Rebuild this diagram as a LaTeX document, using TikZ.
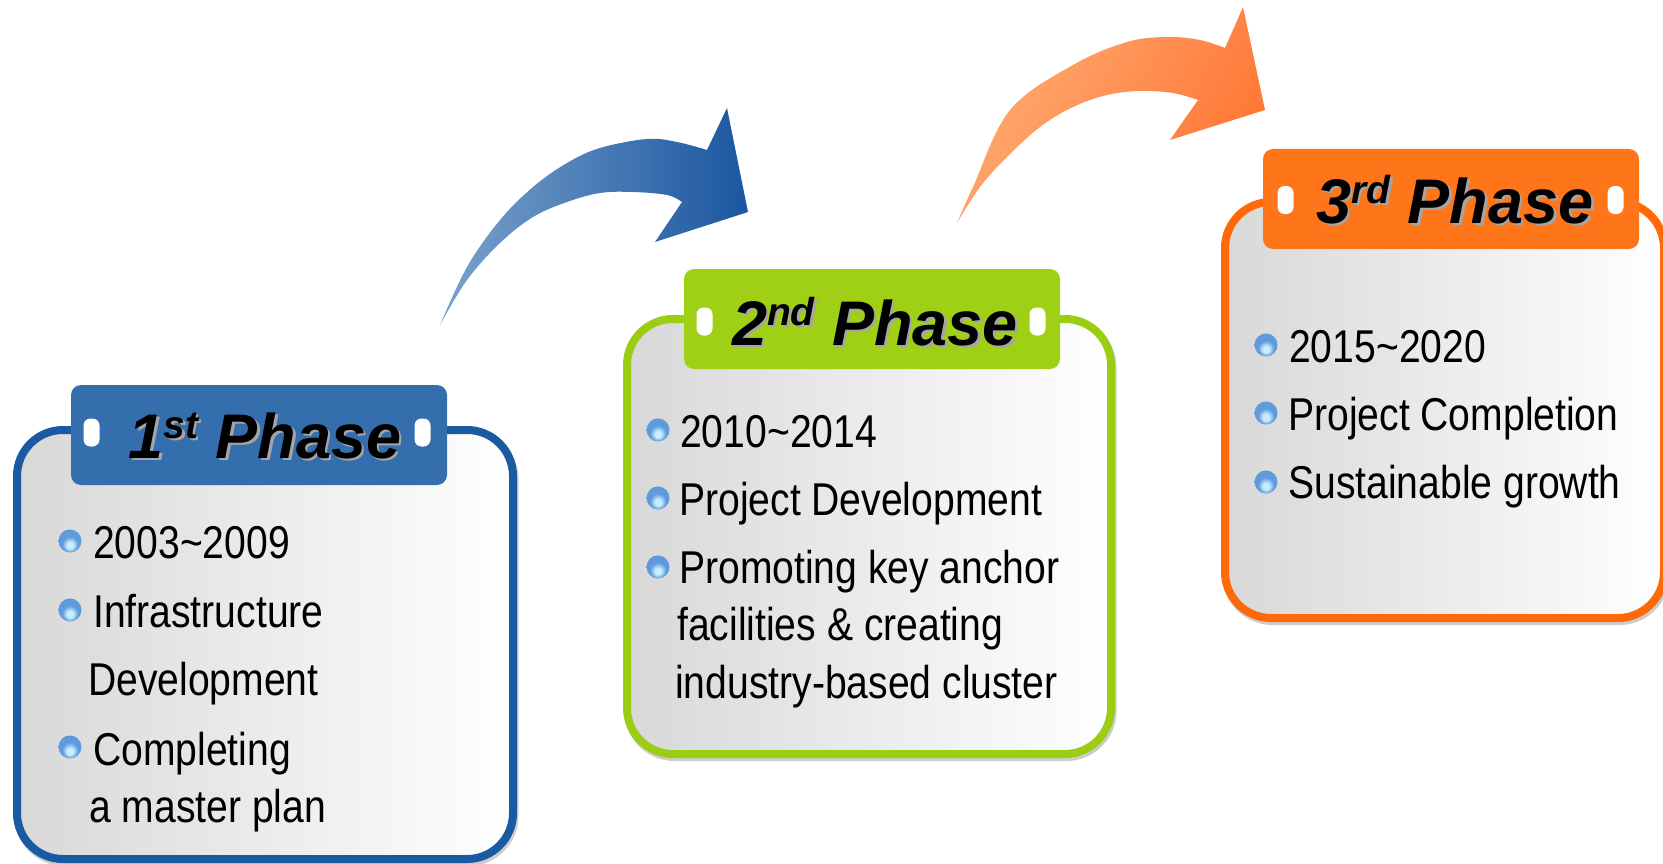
\documentclass[tikz,border=0pt]{standalone}
\usepackage{fontspec}
\setmainfont{Liberation Sans}
\newfontfamily\bodyfont[FakeStretch=0.85]{Liberation Sans}
\definecolor{bluehead}{RGB}{53,110,172}
\definecolor{blueline}{RGB}{26,90,163}
\definecolor{greenhead}{RGB}{160,208,22}
\definecolor{greenline}{RGB}{155,205,20}
\definecolor{orangehead}{RGB}{255,117,25}
\definecolor{orangeline}{RGB}{255,105,10}
\definecolor{boxgray}{RGB}{216,216,216}
\definecolor{arrowblueA}{RGB}{122,163,204}
\definecolor{arrowblueB}{RGB}{28,86,160}
\definecolor{arroworA}{RGB}{255,172,115}
\definecolor{arroworB}{RGB}{255,118,52}
\definecolor{ballhi}{RGB}{200,238,252}
\definecolor{ballmid}{RGB}{95,155,220}
\definecolor{ballrim}{RGB}{40,85,155}
\definecolor{titleshadow}{RGB}{165,165,165}
\pgfdeclareradialshading{glossball}{\pgfpoint{0bp}{-11bp}}{color(0bp)=(ballhi);color(7bp)=(ballhi);color(17bp)=(ballmid);color(29bp)=(ballmid);color(34bp)=(ballrim);color(50bp)=(ballrim)}
\newcommand{\phtitle}[2]{#1\raisebox{20pt}{\fontsize{39}{39}\selectfont #2} Phase}
\tikzset{
  phasebox/.style={line width=8pt, rounded corners=46pt, left color=boxgray, right color=white},
  boxshadow/.style={draw=gray!40, line width=8pt, rounded corners=46pt},
  headbox/.style={rounded corners=10pt},
  pill/.style={fill=white, rounded corners=7pt},
  bodytext/.style={anchor=base west, inner sep=0pt, font=\bodyfont\fontsize{46}{46}\selectfont},
  titletext/.style={anchor=base, inner sep=0pt, font=\bfseries\itshape\fontsize{63}{63}\selectfont},
  bulletball/.style={shading=glossball},
}
\begin{document}
\begin{tikzpicture}[x=1pt,y=-1pt]
\useasboundingbox (0,0) rectangle (1663,864);
% ---------- arrows ----------
\shade[left color=arrowblueA, right color=arrowblueB]
  plot[smooth, tension=0.6] coordinates {(440,325) (467,267) (500,220) (533,187) (567,163) (600,148) (647,139) (677,142) (707,150)}
  -- (727,108) -- (748,212) -- (655,242) --
  plot[smooth, tension=0.6] coordinates {(682,202) (667,195) (633,192) (600,193) (567,202) (533,217) (500,243) (467,280) (440,325)}
  -- cycle;
\shade[left color=arroworA, right color=arroworB, shading angle=60]
  plot[smooth, tension=0.6] coordinates {(957,223) (973,187) (1010,110) (1073,65) (1127,42) (1167,37) (1200,40) (1225,48)}
  -- (1243,7) -- (1265,110) -- (1170,140) --
  plot[smooth, tension=0.6] coordinates {(1198,100) (1173,93) (1140,91) (1107,95) (1073,107) (1040,127) (1007,157) (980,187) (957,223)}
  -- cycle;
% ---------- phase 1 ----------
\draw[boxshadow] (18.5,433) rectangle (514.5,862);
\draw[phasebox, draw=blueline] (17,430) rectangle (513,859);
\fill[headbox, bluehead] (71,385) rectangle (447,485);
\fill[pill] (83.5,418.5) rectangle (99.5,446.5);
\fill[pill] (414.5,418.5) rectangle (430.5,446.5);
\node[titletext, text=titleshadow] (t1s) at (267.5,460.5) {\phtitle{1}{st}};
\node[titletext] (t1) at (265,458) {\phtitle{1}{st}};
\shade[bulletball] (70,541) circle (11.5);
\shade[bulletball] (70,610) circle (11.5);
\shade[bulletball] (70,747) circle (11.5);
\node[bodytext] (a1) at (93,558) {2003\textasciitilde 2009};
\node[bodytext] (a2) at (93,627) {Infrastructure};
\node[bodytext] (a3) at (88,695) {Development};
\node[bodytext] (a4) at (93,765) {Completing};
\node[bodytext] (a5) at (89,822) {a master plan};
% ---------- phase 2 ----------
\draw[boxshadow] (628.5,322) rectangle (1112.5,757);
\draw[phasebox, draw=greenline] (627,319) rectangle (1111,754);
\fill[headbox, greenhead] (684,269) rectangle (1060,369);
\fill[pill] (696.5,307.5) rectangle (712.5,335.5);
\fill[pill] (1029.5,307.5) rectangle (1045.5,335.5);
\node[titletext, text=titleshadow] (t2s) at (877.5,347.5) {\phtitle{2}{nd}};
\node[titletext] (t2) at (875,345) {\phtitle{2}{nd}};
\shade[bulletball] (658,430) circle (11.5);
\shade[bulletball] (658,498) circle (11.5);
\shade[bulletball] (658,567) circle (11.5);
\node[bodytext] (b1) at (680,447) {2010\textasciitilde 2014};
\node[bodytext] (b2) at (679,515) {Project Development};
\node[bodytext] (b3) at (679,583) {Promoting key anchor};
\node[bodytext] (b4) at (677,640) {facilities \& creating};
\node[bodytext] (b5) at (675,698) {industry-based cluster};
% ---------- phase 3 ----------
\draw[boxshadow] (1226.5,205) rectangle (1665.5,621);
\draw[phasebox, draw=orangeline] (1225,202) rectangle (1664,618);
\fill[headbox, orangehead] (1263,149) rectangle (1639,249);
\fill[pill] (1277.5,186) rectangle (1293.5,214);
\fill[pill] (1607.5,186) rectangle (1623.5,214);
\node[titletext, text=titleshadow] (t3s) at (1457.5,225.5) {\phtitle{3}{rd}};
\node[titletext] (t3) at (1455,223) {\phtitle{3}{rd}};
\shade[bulletball] (1266,345) circle (11.5);
\shade[bulletball] (1266,413) circle (11.5);
\shade[bulletball] (1266,482) circle (11.5);
\node[bodytext] (c1) at (1289,362) {2015\textasciitilde 2020};
\node[bodytext] (c2) at (1288,430) {Project Completion};
\node[bodytext] (c3) at (1288,498) {Sustainable growth};
\end{tikzpicture}
\end{document}
